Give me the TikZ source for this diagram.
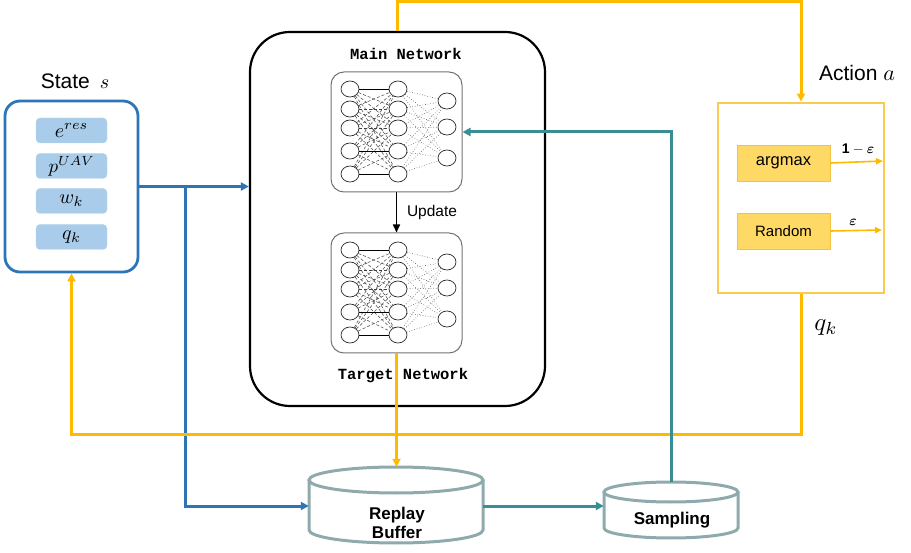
\documentclass[tikz,border=0pt]{standalone}
\usepackage{amsmath,bm}
\usepackage{graphicx}
\usepackage{fontspec}
\setmainfont{Liberation Sans}
\newfontfamily\monof{Liberation Mono}
\usetikzlibrary{arrows.meta,shapes.geometric,calc}
\definecolor{blueC}{RGB}{46,117,182}
\definecolor{lblueC}{RGB}{168,204,234}
\definecolor{orangeC}{RGB}{255,186,0}
\definecolor{actC}{RGB}{248,204,80}
\definecolor{argC}{RGB}{255,217,102}
\definecolor{argB}{RGB}{244,194,68}
\definecolor{tealC}{RGB}{56,142,148}
\definecolor{cylC}{RGB}{143,170,172}
\newcommand{\scm}[2]{\scalebox{#1}{\fontsize{10}{10}\selectfont$#2$}}
\tikzset{
  tip/.style={-{Triangle[length=8pt,width=8pt]}},
  bline/.style={draw=blueC,line width=3pt},
  oline/.style={draw=orangeC,line width=3pt},
  tline/.style={draw=tealC,line width=3pt},
  item/.style={fill=lblueC,draw=lblueC!80!white,rounded corners=4pt,minimum width=71pt,minimum height=25pt,inner sep=0pt},
  netbox/.style={draw=black!55,line width=1pt,rounded corners=13pt,minimum width=131pt,minimum height=120pt,inner sep=0pt},
  neuron/.style={draw=black!85,fill=white,ellipse,minimum width=18pt,minimum height=16pt,inner sep=0pt,line width=0.7pt},
  nedge/.style={draw=black!75,densely dashed,line width=0.5pt},
  nedge2/.style={draw=black!65,dotted,line width=0.6pt},
  nsolid/.style={draw=black,line width=0.9pt},
  choice/.style={fill=argC,draw=argB,line width=0.8pt,minimum width=93pt,minimum height=36pt,inner sep=0pt},
  cyl/.style={draw=cylC,line width=3pt,fill=white},
}
\newcommand{\nnet}[2]{%
  \begin{scope}[shift={(0,#1)}]
    \node[netbox] (#2box) at (396.5,-132) {};
    \foreach \i/\yy in {1/-89,2/-109,3/-128,4/-151,5/-174}{
      \node[neuron] (#2a\i) at (350,\yy) {};
      \node[neuron] (#2b\i) at (398,\yy) {};}
    \foreach \j/\yy in {1/-101,2/-127,3/-158}{\node[neuron] (#2c\j) at (447,\yy) {};}
    \foreach \i in {1,...,5}{\foreach \k in {1,...,5}{\draw[nedge] (#2a\i) -- (#2b\k);}}
    \foreach \i in {1,...,5}{\foreach \k in {1,2,3}{\draw[nedge2] (#2b\i) -- (#2c\k);}}
    \draw[nsolid] (#2a1) -- (#2b1);
    \draw[nsolid] (#2a4) -- (#2b4);
    \draw[nsolid] (#2a5) -- (#2b5);
  \end{scope}}
\begin{document}
\begin{tikzpicture}[x=1pt,y=1pt]
\useasboundingbox (0,0) rectangle (911,-553);
% State
\node[font=\fontsize{21}{21}\selectfont] (statelbl) at (75,-81) {State\hspace{10pt}\scm{2.0}{s}};
\node[draw=blueC,line width=2.8pt,rounded corners=15pt,minimum width=133pt,minimum height=171pt,inner sep=0pt] (state) at (71.5,-186.5) {};
\node[item] (s1) at (71.5,-130.5) {\scm{2.0}{e^{res}}};
\node[item] (s2) at (71.5,-166) {\scm{1.9}{p^{UAV}}};
\node[item] (s3) at (71.5,-201) {\scm{2.0}{w_k}};
\node[item] (s4) at (71.5,-237) {\scm{2.0}{q_k}};
% main network box
\node[draw=black,line width=2.2pt,rounded corners=40pt,minimum width=295pt,minimum height=374pt,inner sep=0pt] (main) at (397.5,-219) {};
\node[font=\monof\bfseries\fontsize{15.5}{16}\selectfont] (mtxt) at (406,-54) {Main Network};
\nnet{0}{m}
\nnet{-161}{t}
\draw[line width=1.6pt,-{Triangle[length=8pt,width=7pt]}] (mbox) -- (tbox);
\node[font=\fontsize{15.5}{16}\selectfont] (upd) at (432,-212) {Update};
\node[font=\monof\bfseries\fontsize{15.5}{16}\selectfont] (ttxt) at (403,-376) {Target Network};
% action box
\node[draw=actC,line width=2.8pt,minimum width=166pt,minimum height=190pt,inner sep=0pt] (act) at (801,-198) {};
\node[font=\fontsize{21}{21}\selectfont] (actlbl) at (857,-73) {Action \scm{2.2}{a}};
\node[choice,font=\fontsize{16.5}{17}\selectfont] (argm) at (783.5,-163) {argmax};
\node[choice,font=\fontsize{15}{15}\selectfont] (rand) at (783.5,-231) {Random};
\coordinate (a1) at (883,-161);
\coordinate (a2) at (882,-230);
\draw[draw=orangeC,line width=1.6pt,-{Triangle[length=7pt,width=6pt]}] (argm.east) -- (a1);
\draw[draw=orangeC,line width=1.6pt,-{Triangle[length=7pt,width=6pt]}] (rand.east) -- (a2);
\node (l1) at (858,-149) {\scm{1.4}{\mathbf{1}-\bm{\varepsilon}}};
\node (l2) at (853,-222) {\scm{1.4}{\bm{\varepsilon}}};
\node (qk) at (826,-328) {\scm{2.5}{q_k}};
% cylinders
\node[minimum width=174pt,minimum height=78pt,inner sep=0pt] (rb) at (396,-506) {};
\draw[cyl] (309,-480) -- (309,-530) arc[start angle=180,end angle=360,x radius=87pt,y radius=13pt] -- (483,-480);
\draw[cyl] (396,-480) ellipse[x radius=87pt,y radius=13pt];
\node[font=\bfseries\fontsize{17}{19}\selectfont,align=center] (rbtxt) at (397,-523) {Replay\\Buffer};
\node[minimum width=134pt,minimum height=56pt,inner sep=0pt] (samp) at (671,-510) {};
\draw[cyl] (604,-492) -- (604,-528) arc[start angle=180,end angle=360,x radius=67pt,y radius=10pt] -- (738,-492);
\draw[cyl] (671,-492) ellipse[x radius=67pt,y radius=10pt];
\node[font=\bfseries\fontsize{17}{17}\selectfont] (samptxt) at (672,-520) {Sampling};
% blue connectors
\coordinate (br) at (185,-186.5);
\draw[bline,tip] (state.east) -- (state.east -| main.west);
\draw[bline,tip] (br) |- (rb.west);
% orange connectors
\draw[oline,tip] (main.north) -- ++(0,29) -| (act.north);
\draw[oline,tip] (tbox.south) -- (tbox.south |- rb.north);
\draw[oline,tip] (act.south) -- ++(0,-140) -| (state.south);
% teal connectors
\draw[tline,tip] (rb.east) -- (rb.east -| samp.west);
\draw[tline,tip] (samp.north) |- (mbox.east);
\end{tikzpicture}
\end{document}
